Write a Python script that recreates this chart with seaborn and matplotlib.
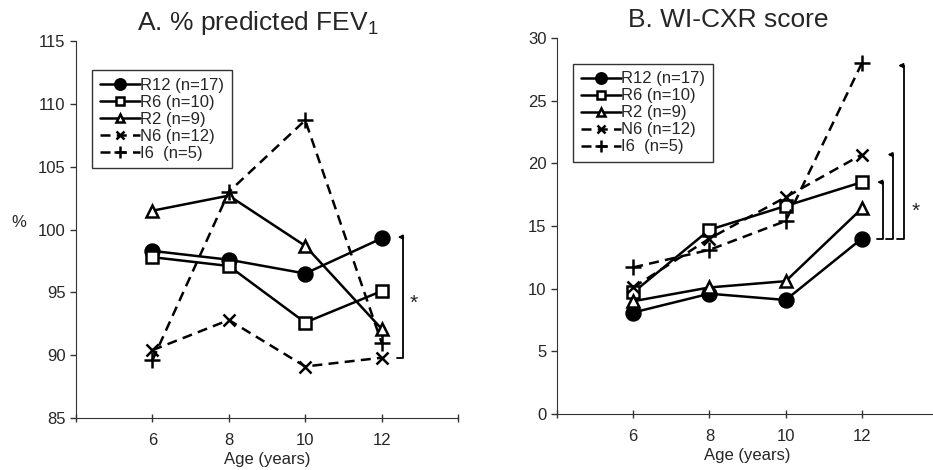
import numpy as np
import pandas as pd
import matplotlib
matplotlib.use("Agg")
import matplotlib.pyplot as plt
import seaborn as sns

# data
ages = [6, 8, 10, 12]
groups = ["R12 (n=17)", "R6 (n=10)", "R2 (n=9)", "N6 (n=12)", "I6  (n=5)"]

fev1_r12 = [98.3, 97.6, 96.5, 99.3]
fev1_r6 = [97.8, 97.1, 92.6, 95.1]
fev1_r2 = [101.5, 102.7, 98.7, 92.1]
fev1_n6 = [90.4, 92.8, 89.1, 89.8]
fev1_i6 = [89.6, 103.0, 108.7, 91.0]

cxr_r12 = [8.1, 9.6, 9.1, 14.0]
cxr_r6 = [9.7, 14.7, 16.6, 18.5]
cxr_r2 = [9.0, 10.1, 10.6, 16.4]
cxr_n6 = [10.1, 14.0, 17.3, 20.7]
cxr_i6 = [11.7, 13.1, 15.4, 28.0]

markers = ["o", "s", "^", "x", "+"]
facecolors = ["black", "white", "white", "black", "black"]
msizes = [10, 8.5, 8.5, 8.5, 11]
linestyles = ["-", "-", "-", (0, (4, 2.5)), (0, (4, 2.5))]

sns.set_style("ticks")
plt.rcParams["font.family"] = ["Liberation Sans", "DejaVu Sans"]
plt.rcParams["mathtext.fontset"] = "custom"
plt.rcParams["mathtext.rm"] = "Liberation Sans"
plt.rcParams["mathtext.it"] = "Liberation Sans:italic"

fig = plt.figure(figsize=(9.33, 4.7), dpi=100)
axA = fig.add_axes([0.0815, 0.1106, 0.4094, 0.802])
axB = fig.add_axes([0.597, 0.1191, 0.4085, 0.80])


def draw_panel(ax, series, ylim, title, title_x, legend_anchor):
    rows = []
    for g, vals in zip(groups, series):
        for a, v in zip(ages, vals):
            rows.append({"age": a, "value": v, "group": g})
    df = pd.DataFrame(rows)
    for i, g in enumerate(groups):
        sub = df[df["group"] == g]
        sns.lineplot(data=sub, x="age", y="value", ax=ax, color="black",
                     marker=markers[i], markersize=msizes[i],
                     markerfacecolor=facecolors[i], markeredgecolor="black",
                     markeredgewidth=1.8, linewidth=1.8,
                     linestyle=linestyles[i], label=g)
    ax.set_xlim(4, 14)
    ax.set_ylim(*ylim)
    ax.set_xticks(range(4, 15, 2))
    ax.set_xticklabels(["", "6", "8", "10", "12", ""])
    ax.set_yticks(np.arange(ylim[0], ylim[1] + 1, 5))
    ax.tick_params(axis="x", direction="inout", length=6, width=1, labelsize=12,
                   color="#333333", pad=8)
    ax.tick_params(axis="y", direction="out", length=4, width=1, labelsize=12,
                   color="#333333")
    for s in ["top", "right"]:
        ax.spines[s].set_visible(False)
    for s in ["left", "bottom"]:
        ax.spines[s].set_color("#333333")
    ax.set_xlabel("Age (years)", fontsize=12, labelpad=3)
    ax.set_ylabel("")
    ax.set_title(title, fontsize=19, pad=8, x=title_x)
    leg = ax.legend(loc="upper left", bbox_to_anchor=legend_anchor, borderaxespad=0,
                    frameon=True, fancybox=False, edgecolor="black", fontsize=12,
                    handlelength=2.4, handletextpad=0.05, labelspacing=0.12,
                    borderpad=0.45, markerscale=0.75)
    leg.get_frame().set_linewidth(1.0)


def bracket(ax, x_v, y_top, y_bot, x_tip, x_stub):
    ax.plot([x_stub, x_v, x_v], [y_bot, y_bot, y_top], color="black", lw=1.3,
            clip_on=False)
    ax.annotate("", xy=(x_tip, y_top), xytext=(x_v, y_top),
                arrowprops=dict(arrowstyle="-|>", color="black", lw=1.3,
                                mutation_scale=6, shrinkA=0, shrinkB=0),
                annotation_clip=False)


draw_panel(axA, [fev1_r12, fev1_r6, fev1_r2, fev1_n6, fev1_i6], (85, 115),
           "A. % predicted FEV$_1$", 0.476, (0.042, 0.923))
draw_panel(axB, [cxr_r12, cxr_r6, cxr_r2, cxr_n6, cxr_i6], (0, 30),
           "B. WI-CXR score", 0.449, (0.042, 0.931))

axA.set_ylabel("%", rotation=0, fontsize=12)
axA.yaxis.set_label_coords(-0.15, 0.5)

# significance brackets
bracket(axA, 12.57, 99.4, 89.8, 12.42, 12.40)
axA.text(12.83, 94.1, "*", fontsize=15, ha="center", va="center")

bracket(axB, 12.55, 18.5, 14.0, 12.40, 12.40)
bracket(axB, 12.82, 20.7, 14.0, 12.67, 12.64)
bracket(axB, 13.10, 27.8, 14.0, 12.95, 12.92)
axB.text(13.40, 16.2, "*", fontsize=15, ha="center", va="center")

fig.savefig("out.png", dpi=100)
